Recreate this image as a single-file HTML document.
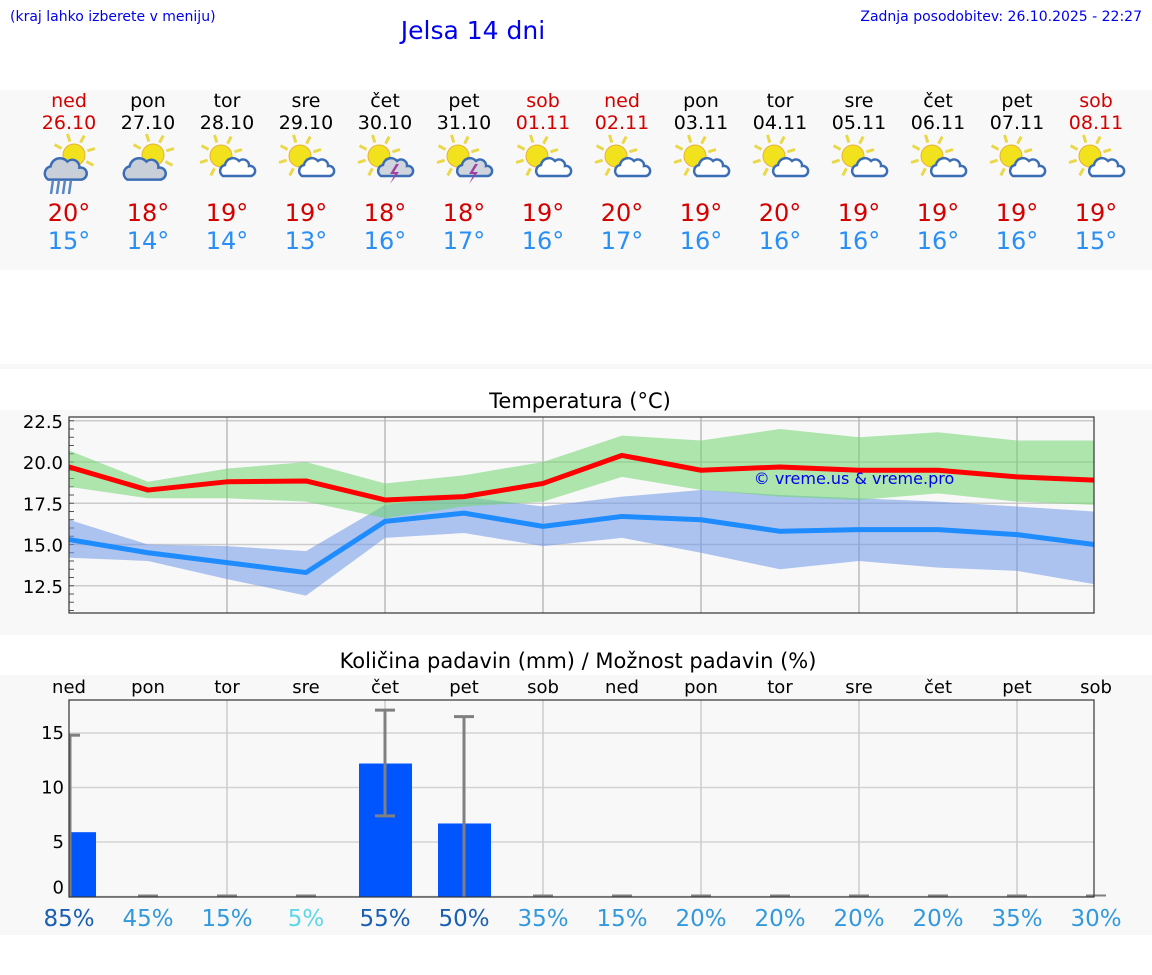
<!DOCTYPE html>
<html><head><meta charset="utf-8"><style>
body{margin:0;width:1152px;height:975px;background:#fff;font-family:"DejaVu Sans","Liberation Sans",sans-serif;overflow:hidden}
svg{position:absolute;left:0;top:0}
</style></head><body>
<svg width="1152" height="975">
<text x="10" y="21" font-size="14" fill="#0000ee">(kraj lahko izberete v meniju)</text>
<text x="473" y="39" font-size="25" fill="#0000ee" text-anchor="middle">Jelsa 14 dni</text>
<text x="1142" y="21" font-size="14" fill="#0000ee" text-anchor="end">Zadnja posodobitev: 26.10.2025 - 22:27</text>
<rect x="0" y="90" width="1152" height="180" fill="#f8f8f8"/>
<rect x="0" y="364" width="1152" height="5" fill="#f8f8f8"/>
<rect x="0" y="410" width="1152" height="225" fill="#f8f8f8"/>
<rect x="0" y="675" width="1152" height="260" fill="#f8f8f8"/>
<g id="days"></g>
<text x="580" y="408" font-size="21" text-anchor="middle">Temperatura (°C)</text>
<text x="578" y="668" font-size="21" text-anchor="middle">Količina padavin (mm) / Možnost padavin (%)</text>
<g id="temp"></g>
<g id="prec"></g>
</svg>
<script>
const dayNames=["ned","pon","tor","sre","čet","pet","sob","ned","pon","tor","sre","čet","pet","sob"];
const dates=["26.10","27.10","28.10","29.10","30.10","31.10","01.11","02.11","03.11","04.11","05.11","06.11","07.11","08.11"];
const hiLabels=[20,18,19,19,18,18,19,20,19,20,19,19,19,19];
const loLabels=[15,14,14,13,16,17,16,17,16,16,16,16,16,15];
const icons=["rain","cloudy","pc","pc","storm","storm","pc","pc","pc","pc","pc","pc","pc","pc"];
const tMax=[19.7,18.3,18.8,18.85,17.7,17.9,18.7,20.4,19.5,19.7,19.5,19.5,19.1,18.9];
const tMaxHi=[20.7,18.8,19.6,20.0,18.7,19.2,20.0,21.6,21.3,22.0,21.5,21.8,21.3,21.3];
const tMaxLo=[18.5,17.8,17.8,17.6,16.6,17.3,17.6,19.1,18.3,17.9,17.7,18.1,17.6,17.4];
const tMin=[15.3,14.5,13.9,13.3,16.4,16.9,16.1,16.7,16.5,15.8,15.9,15.9,15.6,15.0];
const tMinHi=[16.5,15.0,14.9,14.6,17.4,17.9,17.3,17.9,18.3,18.0,17.8,17.6,17.3,17.0];
const tMinLo=[14.2,14.0,12.9,11.9,15.4,15.7,14.9,15.4,14.5,13.5,14.0,13.6,13.4,12.6];
const tempTicks=[12.5,15.0,17.5,20.0,22.5];
const precip=[5.9,0,0,0,12.2,6.7,0,0,0,0,0,0,0,0];
const errLo=[0,0,0,0,7.4,0,0,0,0,0,0,0,0,0];
const errHi=[14.8,0,0,0,17.1,16.5,0,0,0,0,0,0,0,0];
const chance=[85,45,15,5,55,50,35,15,20,20,20,20,35,30];
const precTicks=[0,5,10,15];
const NS="http://www.w3.org/2000/svg";
function mk(p,t,a,txt){const e=document.createElementNS(NS,t);for(const k in a)e.setAttribute(k,a[k]);if(txt!==undefined)e.textContent=txt;p.appendChild(e);return e;}
const X=i=>69+i*79;
const L=69,R=1094;
const dg=document.getElementById('days');
function sun(g,cx,cy,r){for(let k=0;k<8;k++){const a=k*Math.PI/4-0.3;mk(g,'line',{x1:cx+Math.cos(a)*(r+3),y1:cy+Math.sin(a)*(r+3),x2:cx+Math.cos(a)*(r+11),y2:cy+Math.sin(a)*(r+11),stroke:'#e8d84a','stroke-width':3});}
 mk(g,'circle',{cx,cy,r,fill:'#f2e21e',stroke:'#e8b03a','stroke-width':1});}
function cloud(g,cx,cy,s,fill){mk(g,'path',{d:`M${cx-14*s},${cy+8*s} a${6*s},${6*s} 0 0 1 ${2*s},${-11*s} a${8*s},${8*s} 0 0 1 ${14*s},${-4*s} a${6*s},${6*s} 0 0 1 ${10*s},${5*s} a${5*s},${5*s} 0 0 1 ${2*s},${10*s} z`,fill,stroke:'#3a6db5','stroke-width':2.5});}
dayNames.forEach((d,i)=>{const x=X(i);const red=(d==="ned"||d==="sob");
 const g=mk(dg,'g',{});
 
 
 mk(g,'text',{x,y:107,'font-size':19,'text-anchor':'middle',fill:red?'#d40000':'#000'},d);
 mk(g,'text',{x,y:129,'font-size':19,'text-anchor':'middle',fill:red?'#d40000':'#000'},dates[i]);
 const ic=icons[i];
 if(ic==="rain"||ic==="cloudy"){sun(g,x+5,155,11);cloud(g,x-4,170,1.2,'#c8cfd8');
   if(ic==="rain"){for(let k=0;k<4;k++)mk(g,'line',{x1:x-16+k*6,y1:180,x2:x-18+k*6,y2:194,stroke:'#5b86c4','stroke-width':2.5});}}
 else{sun(g,x-6,156,11);cloud(g,x+10,168,1.0,ic==="storm"?'#d0d4dc':'#fff');
   if(ic==="storm")mk(g,'path',{d:`M${x+11},${164} l-6,10 h5 l-5,10 l9,-12 h-5 l5,-8z`,fill:'#a040a0'});}
 mk(g,'text',{x,y:221,'font-size':24,'text-anchor':'middle',fill:'#d40000'},hiLabels[i]+'°');
 mk(g,'text',{x,y:249,'font-size':24,'text-anchor':'middle',fill:'#2a8ff5'},loLabels[i]+'°');
});
const tg=document.getElementById('temp');
const TY=v=>462-(v-20)*16.5;
mk(tg,'rect',{x:L,y:417,width:R-L,height:196,fill:'#f8f8f8'});
tempTicks.forEach(v=>{mk(tg,'line',{x1:L,x2:R,y1:TY(v),y2:TY(v),stroke:'#ccc','stroke-width':1.5});
 const t=mk(tg,'text',{x:63,y:TY(v)+7,'font-size':18,'text-anchor':'end'},v.toFixed(1));
 });
for(let v=11;v<=22.5;v+=0.5)mk(tg,'line',{x1:L,x2:L+5,y1:TY(v),y2:TY(v),stroke:'#555'});
for(let i=2;i<14;i+=2)mk(tg,'line',{x1:X(i),x2:X(i),y1:417,y2:613,stroke:'#bbb','stroke-width':1.5});
function band(hi,lo,fill,name){const xs=hi.map((v,i)=>Math.min(X(i),R));
 let d='M'+xs.map((x,i)=>x+','+TY(hi[i])).join(' L')+' L'+xs.slice().reverse().map((x,j)=>x+','+TY(lo[lo.length-1-j])).join(' L')+'Z';
 const p=mk(tg,'path',{d,fill,'fill-opacity':0.55});}
function line(v,c,name){const p=mk(tg,'polyline',{points:v.map((y,i)=>Math.min(X(i),R)+','+TY(y)).join(' '),fill:'none',stroke:c,'stroke-width':5,'stroke-linejoin':'round'});}
band(tMinHi,tMinLo,'#7098e8','min-temp-band');
band(tMaxHi,tMaxLo,'#6fd66f','max-temp-band');
line(tMax,'#ff0000','max-temp-line');
line(tMin,'#1e8cff','min-temp-line');
mk(tg,'text',{x:854,y:484,'font-size':16,'text-anchor':'middle',fill:'#0000ee'},'© vreme.us & vreme.pro');
mk(tg,'rect',{x:L,y:417,width:R-L,height:196,fill:'none',stroke:'#333','stroke-width':1.2});
const pg=document.getElementById('prec');
const PY=v=>896.5-10.9*v;
mk(pg,'rect',{x:L,y:700,width:R-L,height:197,fill:'#f8f8f8'});
precTicks.forEach(v=>{mk(pg,'line',{x1:L,x2:R,y1:PY(v),y2:PY(v),stroke:'#d4d4d4','stroke-width':1.5});
 const t=mk(pg,'text',{x:64,y:PY(v)+(v===0?-3:6),'font-size':18,'text-anchor':'end'},String(v));
 });
for(let i=2;i<14;i+=2)mk(pg,'line',{x1:X(i),x2:X(i),y1:700,y2:897,stroke:'#ccc','stroke-width':1.5});
dayNames.forEach((d,i)=>{const t=mk(pg,'text',{x:X(i),y:693,'font-size':18,'text-anchor':'middle'},d);});
precip.forEach((v,i)=>{if(v>0){const x0=Math.max(X(i)-26,L),x1=Math.min(X(i)+27,R);
 const b=mk(pg,'rect',{x:x0,y:PY(v),width:x1-x0,height:PY(0)-PY(v),fill:'#0055ff'});
 }});
errHi.forEach((h,i)=>{const x=Math.max(X(i),L+1);
 if(h>0){mk(pg,'line',{x1:x,x2:x,y1:PY(h),y2:PY(errLo[i]),stroke:'#808080','stroke-width':3});
  mk(pg,'line',{x1:Math.max(x-10,L),x2:x+10,y1:PY(h),y2:PY(h),stroke:'#808080','stroke-width':3});
  if(errLo[i]>0)mk(pg,'line',{x1:x-10,x2:x+10,y1:PY(errLo[i]),y2:PY(errLo[i]),stroke:'#808080','stroke-width':3});}
 else mk(pg,'line',{x1:x-10,x2:x+10,y1:PY(0)-1,y2:PY(0)-1,stroke:'#808080','stroke-width':2});});
chance.forEach((c,i)=>{const col=c>=50?'#1a5fb4':(c>=10?'#3399dd':'#5dd8e8');
 const t=mk(pg,'text',{x:X(i),y:926,'font-size':23,'text-anchor':'middle',fill:col},c+'%');
 });
mk(pg,'rect',{x:L,y:700,width:R-L,height:197,fill:'none',stroke:'#333','stroke-width':1.2});
</script>
</body></html>
